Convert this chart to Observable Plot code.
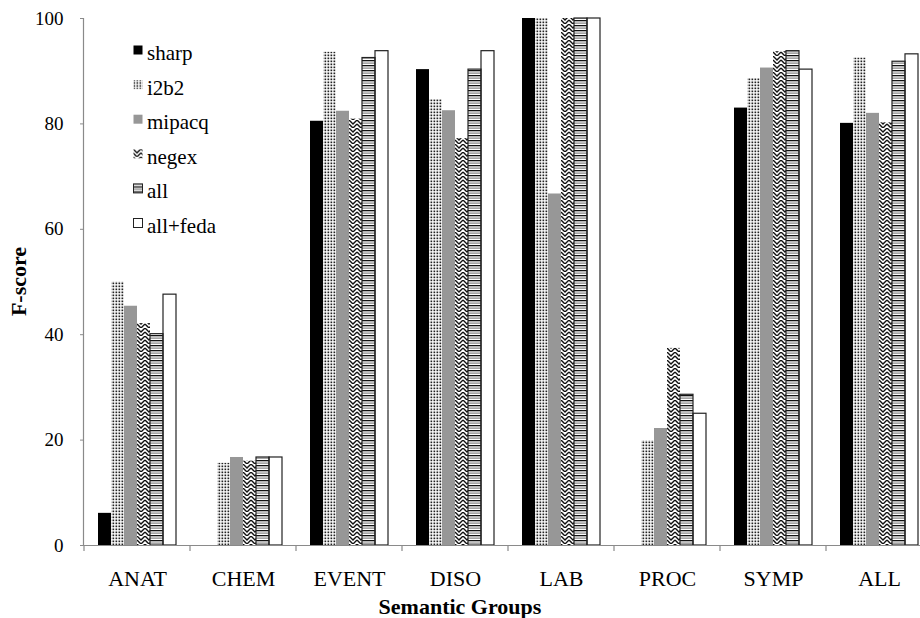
<!DOCTYPE html>
<html><head><meta charset="utf-8">
<script src="https://cdn.jsdelivr.net/npm/d3@7"></script>
<script src="https://cdn.jsdelivr.net/npm/@observablehq/plot@0.6"></script>
<style>
html,body{margin:0;padding:0;background:#fff;overflow:hidden;}
#wrap{position:relative;width:920px;height:618px;overflow:hidden;}
#wrap svg text{font-family:'Liberation Serif','Times New Roman',Times,serif !important;}
</style></head><body>
<svg width="0" height="0" style="position:absolute">
  <defs>
    <pattern id="p-dots" patternUnits="userSpaceOnUse" width="3" height="3">
      <rect width="3" height="3" fill="#fff"/>
      <rect x="0.5" y="0.5" width="1.7" height="1.7" fill="#222"/>
    </pattern>
    <pattern id="p-zig" patternUnits="userSpaceOnUse" width="8" height="8">
      <rect width="8" height="8" fill="#fff"/>
      <path d="M0,0 L4,4 L8,0 M0,4 L4,8 L8,4" fill="none" stroke="#111" stroke-width="1.4"/>
    </pattern>
    <pattern id="p-stripes" patternUnits="userSpaceOnUse" width="6" height="5">
      <rect width="6" height="5" fill="#fff"/>
      <rect y="0" width="6" height="1.3" fill="#111"/>
      <rect y="2.4" width="6" height="1.5" fill="#9a9a9a"/>
    </pattern>
  </defs>
</svg>
<div id="wrap"></div>
<script>
const groups = ["ANAT","CHEM","EVENT","DISO","LAB","PROC","SYMP","ALL"];
const systems = ["sharp","i2b2","mipacq","negex","all","all+feda"];
const sharp   = [6.1, 0,    80.5, 90.3, 100,  0,    83.0, 80.1];
const i2b2    = [50.0,15.6, 93.6, 84.6, 100,  19.9, 88.6, 92.5];
const mipacq  = [45.4,16.7, 82.4, 82.5, 66.7, 22.2, 90.6, 82.0];
const negex   = [42.1,16.0, 80.9, 77.2, 100,  37.4, 93.7, 80.2];
const all     = [40.1,16.7, 92.5, 90.3, 100,  28.6, 93.8, 91.8];
const allFeda = [47.6,16.7, 93.8, 93.8, 100,  25.0, 90.3, 93.2];
const yTicks = [0,20,40,60,80,100];

const series = [sharp, i2b2, mipacq, negex, all, allFeda];
const rows = [];
groups.forEach((g, gi) => systems.forEach((s, si) => rows.push({group: g, system: s, value: series[si][gi]})));

const fills = ["#000", "url(#p-dots)", "#979797", "url(#p-zig)", "url(#p-stripes)", "#fff"];
const outlined = ["all", "all+feda"];
const serif = "'Liberation Serif', 'Times New Roman', Times, serif";

const chart = Plot.plot({
  width: 920, height: 618,
  marginLeft: 83, marginRight: -12, marginTop: 18, marginBottom: 73,
  style: {fontFamily: serif, fontSize: "18px", color: "#000", background: "#fff", overflow: "visible"},
  fx: {domain: groups, paddingInner: 0, paddingOuter: 0, label: null},
  x: {domain: systems, paddingInner: 0, paddingOuter: 0.786, axis: null},
  y: {domain: [0, 100]},
  color: {type: "ordinal", domain: systems, range: fills},
  marks: [
    Plot.barY(rows, {fx: "group", x: "system", y: "value", fill: "system"}),
    Plot.barY(rows.filter(d => outlined.includes(d.system)), {fx: "group", x: "system", y: "value", fill: "none", stroke: "#222", strokeWidth: 1.2}),
    Plot.ruleY([0], {stroke: "#8a8a8a", strokeWidth: 1.2}),
    Plot.axisY({ticks: yTicks, tickSize: 4, tickPadding: 17, stroke: "#8a8a8a", label: null, fontSize: 19}),
    Plot.axisFx({anchor: "bottom", tickSize: 0, tickPadding: 25, label: null, fontSize: 22})
  ]
});
document.getElementById("wrap").prepend(chart);

// axis line, boundary ticks and axis titles, positioned through the chart's scales
const svg = d3.select(chart);
const y = chart.scale("y"), fx = chart.scale("fx");
const y0 = y.apply(0), y100 = y.apply(100);
svg.append("line").attr("x1", 83.5).attr("x2", 83.5).attr("y1", y0).attr("y2", y100)
  .attr("stroke", "#8a8a8a").attr("stroke-width", 1.2);
const bounds = groups.map(g => fx.apply(g)).concat([fx.apply(groups[groups.length-1]) + fx.bandwidth]);
bounds.forEach(b => svg.append("line").attr("x1", b).attr("x2", b).attr("y1", y0).attr("y2", y0 + 6)
  .attr("stroke", "#8a8a8a").attr("stroke-width", 1.2));
svg.append("text").text("F-score").attr("transform", `translate(26,${(y0 + y100) / 2}) rotate(-90)`)
  .attr("text-anchor", "middle").attr("font-weight", "bold").attr("font-size", 22).attr("fill", "#000");
svg.append("text").text("Semantic Groups").attr("x", 460).attr("y", 614)
  .attr("text-anchor", "middle").attr("font-weight", "bold").attr("font-size", 22).attr("fill", "#000");

// legend (inside the plot area, top-left)
const lg = svg.append("g").attr("transform", "translate(133,53)");
systems.forEach((s, i) => {
  const row = lg.append("g").attr("transform", `translate(0,${i * 34.6})`);
  row.append("rect").attr("x", 0.5).attr("y", -7.5).attr("width", 9).attr("height", 9)
    .attr("fill", fills[i]).attr("stroke", outlined.includes(s) ? "#222" : "none");
  row.append("text").text(s).attr("x", 14).attr("y", 7).attr("text-anchor", "start")
    .attr("font-size", 21).attr("fill", "#000");
});
</script>
</body></html>
